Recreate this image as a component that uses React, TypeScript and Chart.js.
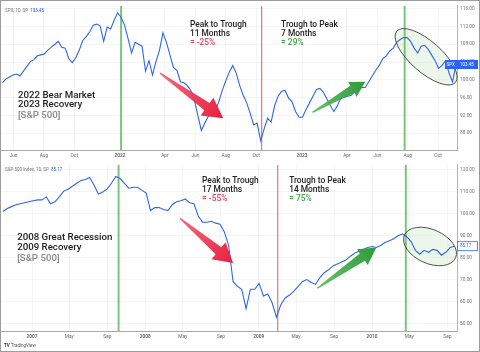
import React, { useEffect, useRef } from "react";
import { Chart, registerables } from "chart.js";

Chart.register(...registerables);

const DAY = 86400000;
const D = (s: string) => Date.parse(s + "T00:00:00Z");

// ---------------- Top chart: 2022 bear market / 2023 recovery (weekly closes)
const topStartDate = "2021-05-10";
const topStepDays = 7;
const topValues = [
  99.35, 100.22, 100.65, 101.08, 101.3, 100.86, 101.95, 103.03, 104.11, 104.54,
  105.41, 105.62, 105.84, 106.7, 107.35, 108.0, 108.65, 107.35, 107.14, 104.76,
  103.89, 104.97, 106.7, 108.86, 109.73, 110.81, 112.32, 112.54, 112.11, 108.65,
  111.89, 111.46, 113.41, 115.1, 114.05, 112.32, 109.3, 106.05, 108.43, 108.0,
  107.57, 101.95, 104.32, 101.08, 104.11, 106.7, 110.59, 108.43, 105.62, 102.81,
  102.16, 99.57, 99.35, 98.7, 97.62, 95.46, 92.0, 88.6, 90.27, 91.78,
  92.22, 93.08, 95.03, 97.62, 99.78, 101.73, 103.24, 101.51, 98.7, 96.54,
  94.81, 92.43, 89.84, 90.27, 86.3, 88.97, 91.35, 90.49, 94.16, 96.32,
  97.41, 97.62, 95.89, 95.03, 92.86, 91.57, 91.57, 93.3, 94.81, 96.32,
  97.84, 98.05, 97.19, 95.68, 94.16, 92.86, 94.16, 95.89, 96.11, 96.32,
  96.54, 97.41, 98.05, 98.27, 98.27, 99.57, 100.86, 102.16, 103.24, 104.76,
  105.41, 106.49, 107.14, 108.43, 109.08, 109.51, 109.51, 108.65, 107.14, 106.05,
  107.57, 107.78, 106.92, 105.62, 104.32, 102.59, 103.24, 104.32, 101.51, 99.57,
  103.45,
];
const topXMin = "2021-05-07";
const topXMax = "2023-11-08";
const topYMin = 84.2;
const topYMax = 116.65;
const topXTickDates = [
  "2021-06-01", "2021-08-01", "2021-10-01", "2022-01-01", "2022-04-01", "2022-06-01",
  "2022-08-01", "2022-10-01", "2023-01-01", "2023-04-01", "2023-06-01", "2023-08-01", "2023-10-01",
];
const topXTickLabels = ["Jun", "Aug", "Oct", "2022", "Apr", "Jun", "Aug", "Oct", "2023", "Apr", "Jun", "Aug", "Oct"];
const topYTicks = [88, 92, 96, 100, 104, 108, 112, 116];
const topPeakTroughDates = ["2022-01-03", "2022-10-12", "2023-07-26"];

// ---------------- Bottom chart: 2008 recession / 2009 recovery (bi-weekly closes)
const botStartDate = "2006-09-29";
const botStepDays = 14;
const botValues = [
  100.97, 102.3, 103.19, 104.07, 104.51, 104.96, 105.4, 105.84, 106.28, 106.28,
  107.61, 104.51, 105.4, 107.61, 110.27, 111.15, 112.48, 113.81, 115.13, 115.57,
  116.46, 112.92, 108.94, 109.82, 111.15, 113.81, 116.9, 116.0, 113.81, 111.59,
  112.03, 112.03, 110.71, 109.38, 101.41, 102.74, 102.74, 101.86, 101.41, 104.07,
  105.4, 105.84, 106.72, 104.96, 104.51, 98.76, 96.1, 96.1, 96.55, 95.66,
  95.22, 91.68, 85.48, 69.11, 66.9, 65.57, 56.72, 65.57, 65.57, 68.23,
  62.47, 63.36, 59.38, 52.8, 58.49, 61.59, 62.92, 64.69, 66.9, 69.11,
  70.0, 68.67, 67.78, 70.88, 73.09, 74.42, 76.19, 77.08, 77.96, 78.85,
  80.62, 81.94, 82.83, 83.71, 84.6, 85.04, 84.6, 85.48, 86.81, 87.7,
  88.58, 89.91, 90.79, 89.47, 87.25, 83.27, 81.5, 83.27, 82.39, 83.71,
  83.27, 81.06, 82.39, 84.6, 85.17,
];
const botXMin = "2006-09-23";
const botXMax = "2010-10-02";
const botYMin = 46.55;
const botYMax = 122.2;
const botXTickDates = [
  "2007-01-01", "2007-05-01", "2007-09-01", "2008-01-01", "2008-05-01", "2008-09-01",
  "2009-01-01", "2009-05-01", "2009-09-01", "2010-01-01", "2010-05-01", "2010-09-01",
];
const botXTickLabels = ["2007", "May", "Sep", "2008", "May", "Sep", "2009", "May", "Sep", "2010", "May", "Sep"];
const botYTicks = [50, 60, 70, 80, 90, 100, 110, 120];
const botPeakTroughDates = ["2007-10-07", "2009-03-03", "2010-04-20"];

const GREEN_LINE = "rgba(118,192,118,0.95)";
const RED_LINE = "rgba(226,112,112,0.95)";
const TXT = "#222222";
const RED_TXT = "#e8405a";
const GREEN_TXT = "#3f9f46";
const GRAY_TXT = "#8a8a8a";
const FONT = "Roboto, 'Liberation Sans', sans-serif";
const SMALL = 8.4;
const BIG = 9.7;

type TextItem = { date: string; value: number; text: string; color: string; size: number; weight?: string };
type ArrowItem = { from: [string, number]; to: [string, number]; c0: string; c1: string; tailW: number; shaftW: number; headW: number; headL: number };
type Cfg = {
  start: string; step: number; values: number[];
  xMin: string; xMax: string; yMin: number; yMax: number;
  xTicks: string[]; xLabels: string[]; yTicks: number[];
  vlines: { date: string; color: string; width: number }[];
  texts: TextItem[];
  arrows: ArrowItem[];
  ellipse: { date: string; value: number; rx: number; ry: number; rot: number };
  header: [string, string];
  priceBox: { sym?: string; filled: boolean };
  padTop: number; axisH: number; logo: boolean;
};

const topCfg: Cfg = {
  start: topStartDate, step: topStepDays, values: topValues,
  xMin: topXMin, xMax: topXMax, yMin: topYMin, yMax: topYMax,
  xTicks: topXTickDates, xLabels: topXTickLabels, yTicks: topYTicks,
  vlines: [
    { date: topPeakTroughDates[0], color: GREEN_LINE, width: 2 },
    { date: topPeakTroughDates[1], color: RED_LINE, width: 1.2 },
    { date: topPeakTroughDates[2], color: GREEN_LINE, width: 2 },
  ],
  texts: [
    { date: "2022-05-21", value: 112.32, text: "Peak to Trough", color: TXT, size: SMALL },
    { date: "2022-05-21", value: 110.27, text: "11 Months", color: TXT, size: SMALL },
    { date: "2022-05-21", value: 108.22, text: "= -25%", color: RED_TXT, size: SMALL },
    { date: "2022-11-20", value: 112.32, text: "Trough to Peak", color: TXT, size: SMALL },
    { date: "2022-11-20", value: 110.27, text: "7 Months", color: TXT, size: SMALL },
    { date: "2022-11-20", value: 108.22, text: "= 29%", color: GREEN_TXT, size: SMALL },
    { date: "2021-06-10", value: 96.54, text: "2022 Bear Market", color: TXT, size: BIG },
    { date: "2021-06-10", value: 94.38, text: "2023 Recovery", color: TXT, size: BIG },
    { date: "2021-06-10", value: 92.0, text: "[S&P 500]", color: GRAY_TXT, size: BIG },
  ],
  arrows: [
    { from: ["2022-03-22", 101.5], to: ["2022-07-27", 91.35], c0: "rgba(240,90,110,0.9)", c1: "#e8203f", tailW: 1.5, shaftW: 9, headW: 22, headL: 20 },
    { from: ["2023-01-22", 92.65], to: ["2023-05-08", 99.57], c0: "rgba(90,185,90,0.9)", c1: "#2f9a3a", tailW: 1.5, shaftW: 8, headW: 17, headL: 15 },
  ],
  ellipse: { date: "2023-09-07", value: 105.19, rx: 39, ry: 15.5, rot: 0.72 },
  header: ["SPX, 1D, SP", "103.45"],
  priceBox: { sym: "SPX", filled: true },
  padTop: 0, axisH: 9, logo: false,
};

const botCfg: Cfg = {
  start: botStartDate, step: botStepDays, values: botValues,
  xMin: botXMin, xMax: botXMax, yMin: botYMin, yMax: botYMax,
  xTicks: botXTickDates, xLabels: botXTickLabels, yTicks: botYTicks,
  vlines: [
    { date: botPeakTroughDates[0], color: GREEN_LINE, width: 2 },
    { date: botPeakTroughDates[1], color: RED_LINE, width: 1.2 },
    { date: botPeakTroughDates[2], color: GREEN_LINE, width: 2 },
  ],
  texts: [
    { date: "2008-07-02", value: 114.69, text: "Peak to Trough", color: TXT, size: SMALL },
    { date: "2008-07-02", value: 110.71, text: "17 Months", color: TXT, size: SMALL },
    { date: "2008-07-02", value: 106.73, text: "= -55%", color: RED_TXT, size: SMALL },
    { date: "2009-04-09", value: 114.69, text: "Trough to Peak", color: TXT, size: SMALL },
    { date: "2009-04-09", value: 110.71, text: "14 Months", color: TXT, size: SMALL },
    { date: "2009-04-09", value: 106.73, text: "= 75%", color: GREEN_TXT, size: SMALL },
    { date: "2006-11-14", value: 89.03, text: "2008 Great Recession", color: TXT, size: BIG },
    { date: "2006-11-14", value: 84.6, text: "2009 Recovery", color: TXT, size: BIG },
    { date: "2006-11-14", value: 79.73, text: "[S&P 500]", color: GRAY_TXT, size: BIG },
  ],
  arrows: [
    { from: ["2008-04-22", 97.88], to: ["2008-10-10", 77.52], c0: "rgba(240,90,110,0.9)", c1: "#e8203f", tailW: 1.5, shaftW: 9, headW: 22, headL: 19 },
    { from: ["2009-07-09", 66.02], to: ["2010-01-15", 84.6], c0: "rgba(90,185,90,0.9)", c1: "#2f9a3a", tailW: 1.5, shaftW: 9, headW: 19, headL: 17 },
  ],
  ellipse: { date: "2010-07-07", value: 85.04, rx: 28, ry: 17, rot: 0.42 },
  header: ["S&P 500 Index, 1D, SP", "85.17"],
  priceBox: { filled: false },
  padTop: 1, axisH: 21, logo: true,
};

function drawArrow(ctx: CanvasRenderingContext2D, x0: number, y0: number, x1: number, y1: number, a: ArrowItem) {
  const dx = x1 - x0, dy = y1 - y0;
  const len = Math.hypot(dx, dy);
  const ux = dx / len, uy = dy / len;
  const px = -uy, py = ux;
  const bx = x1 - ux * a.headL, by = y1 - uy * a.headL;
  const g = ctx.createLinearGradient(x0, y0, x1, y1);
  g.addColorStop(0, a.c0);
  g.addColorStop(1, a.c1);
  ctx.fillStyle = g;
  ctx.beginPath();
  ctx.moveTo(x0 + (px * a.tailW) / 2, y0 + (py * a.tailW) / 2);
  ctx.lineTo(bx + (px * a.shaftW) / 2, by + (py * a.shaftW) / 2);
  ctx.lineTo(bx + (px * a.headW) / 2, by + (py * a.headW) / 2);
  ctx.lineTo(x1, y1);
  ctx.lineTo(bx - (px * a.headW) / 2, by - (py * a.headW) / 2);
  ctx.lineTo(bx - (px * a.shaftW) / 2, by - (py * a.shaftW) / 2);
  ctx.lineTo(x0 - (px * a.tailW) / 2, y0 - (py * a.tailW) / 2);
  ctx.closePath();
  ctx.fill();
}

function makePlugin(cfg: Cfg) {
  return {
    id: "decor",
    beforeDatasetsDraw(chart: any) {
      const { ctx, chartArea: ca, scales } = chart;
      const xs = scales.x, ys = scales.y;
      ctx.save();
      const e = cfg.ellipse;
      ctx.beginPath();
      ctx.ellipse(xs.getPixelForValue(D(e.date)), ys.getPixelForValue(e.value), e.rx, e.ry, e.rot, 0, Math.PI * 2);
      ctx.fillStyle = "rgba(214,236,208,0.45)";
      ctx.fill();
      for (const v of cfg.vlines) {
        const x = xs.getPixelForValue(D(v.date));
        ctx.strokeStyle = v.color;
        ctx.lineWidth = v.width;
        ctx.beginPath();
        ctx.moveTo(x, ca.top);
        ctx.lineTo(x, ca.bottom);
        ctx.stroke();
      }
      ctx.restore();
    },
    afterDatasetsDraw(chart: any) {
      const { ctx, chartArea: ca, scales } = chart;
      const xs = scales.x, ys = scales.y;
      ctx.save();
      const e = cfg.ellipse;
      ctx.beginPath();
      ctx.ellipse(xs.getPixelForValue(D(e.date)), ys.getPixelForValue(e.value), e.rx, e.ry, e.rot, 0, Math.PI * 2);
      ctx.strokeStyle = "#3f3f33";
      ctx.lineWidth = 0.9;
      ctx.stroke();
      for (const a of cfg.arrows) {
        drawArrow(
          ctx,
          xs.getPixelForValue(D(a.from[0])), ys.getPixelForValue(a.from[1]),
          xs.getPixelForValue(D(a.to[0])), ys.getPixelForValue(a.to[1]), a,
        );
      }
      ctx.textBaseline = "middle";
      ctx.textAlign = "left";
      for (const t of cfg.texts) {
        ctx.font = `${t.weight || "500"} ${t.size}px ${FONT}`;
        ctx.fillStyle = t.color;
        ctx.fillText(t.text, xs.getPixelForValue(D(t.date)), ys.getPixelForValue(t.value));
      }
      ctx.font = `4.5px ${FONT}`;
      ctx.fillStyle = "#777";
      const hx = ca.left + 4, hy = ca.top + 5;
      ctx.fillText(cfg.header[0], hx, hy);
      const w = ctx.measureText(cfg.header[0] + "  ").width;
      ctx.fillStyle = "#2962ff";
      ctx.fillText(cfg.header[1], hx + w, hy);
      const last = cfg.values[cfg.values.length - 1];
      const py = ys.getPixelForValue(last);
      ctx.font = `4.5px ${FONT}`;
      if (cfg.priceBox.filled) {
        ctx.fillStyle = "#2962ff";
        ctx.fillRect(ca.right - 12, py - 4.5, 12, 9);
        ctx.fillRect(ca.right, py - 4.5, 21, 9);
        ctx.fillStyle = "#fff";
        ctx.fillText(cfg.priceBox.sym || "", ca.right - 10.5, py);
        ctx.fillText(last.toFixed(2), ca.right + 3, py);
      } else {
        ctx.fillStyle = "#fff";
        ctx.fillRect(ca.right + 0.5, py - 4.5, 20, 9);
        ctx.strokeStyle = "#2962ff";
        ctx.lineWidth = 0.8;
        ctx.strokeRect(ca.right + 0.5, py - 4.5, 20, 9);
        ctx.fillStyle = "#2962ff";
        ctx.fillText(last.toFixed(2), ca.right + 3, py);
      }
      if (cfg.logo) {
        const ly = chart.height - 6;
        ctx.fillStyle = "#333";
        ctx.font = `bold 4.5px ${FONT}`;
        ctx.fillText("TV", 4, ly);
        ctx.font = `4.5px ${FONT}`;
        ctx.fillStyle = "#555";
        ctx.fillText("TradingView", 11, ly);
      }
      ctx.restore();
    },
  };
}

function PriceChart({ cfg, top, height }: { cfg: Cfg; top: number; height: number }) {
  const ref = useRef<HTMLCanvasElement>(null);
  useEffect(() => {
    const canvas = ref.current!;
    const data = cfg.values.map((v, i) => ({ x: D(cfg.start) + i * cfg.step * DAY, y: v }));
    const yearLabels = new Set(cfg.xLabels.filter((l) => /^\d{4}$/.test(l)));
    const chart = new Chart(canvas, {
      type: "line",
      data: {
        datasets: [
          {
            data,
            borderColor: "#2f66e6",
            borderWidth: 1.1,
            pointRadius: 0,
            tension: 0,
            fill: false,
          },
        ],
      },
      options: {
        animation: false,
        responsive: false,
        maintainAspectRatio: false,
        events: [],
        layout: { padding: { left: 1, top: cfg.padTop, right: 0, bottom: 0 } },
        plugins: { legend: { display: false }, tooltip: { enabled: false } },
        scales: {
          x: {
            type: "linear",
            min: D(cfg.xMin),
            max: D(cfg.xMax),
            grid: { color: "#eef0f3", lineWidth: 0.7, drawTicks: false },
            border: { color: "#a9a9a9", width: 1 },
            afterBuildTicks: (s: any) => {
              s.ticks = cfg.xTicks.map((d) => ({ value: D(d) }));
            },
            afterFit: (s: any) => {
              s.height = cfg.axisH;
            },
            ticks: {
              autoSkip: false,
              maxRotation: 0,
              padding: 2.5,
              color: "#6a6a6a",
              font: (c: any) => {
                const lbl = c.tick ? cfg.xLabels[cfg.xTicks.findIndex((d) => D(d) === c.tick.value)] : "";
                return { size: 4.8, family: FONT, weight: yearLabels.has(lbl) ? "bold" : "normal" } as any;
              },
              callback: (v: any) => {
                const i = cfg.xTicks.findIndex((d) => D(d) === v);
                return i >= 0 ? cfg.xLabels[i] : "";
              },
            },
          },
          y: {
            position: "right",
            min: cfg.yMin,
            max: cfg.yMax,
            grid: { color: "#eef0f3", lineWidth: 0.7, drawTicks: false },
            border: { color: "#b5b5b5", width: 1 },
            afterBuildTicks: (s: any) => {
              s.ticks = cfg.yTicks.map((v) => ({ value: v }));
            },
            afterFit: (s: any) => {
              s.width = 23;
            },
            ticks: {
              padding: 3,
              color: "#777",
              font: { size: 4.8, family: FONT },
              callback: (v: any) => Number(v).toFixed(2),
            },
          },
        },
      },
      plugins: [makePlugin(cfg)],
    } as any);
    return () => chart.destroy();
  }, [cfg]);
  return (
    <canvas
      ref={ref}
      width={480}
      height={height}
      style={{ position: "absolute", left: 0, top, width: 480, height, display: "block" }}
    />
  );
}

export default function App() {
  return (
    <div style={{ position: "fixed", left: 0, top: 0, width: 480, height: 352, background: "#fff", overflow: "hidden" }}>
      <PriceChart cfg={topCfg} top={0} height={159} />
      <PriceChart cfg={botCfg} top={159} height={193} />
      <div
        style={{
          position: "absolute", left: 0, top: 0, width: 480, height: 352,
          boxSizing: "border-box", border: "1px solid #9c9c9c", pointerEvents: "none",
        }}
      />
    </div>
  );
}
